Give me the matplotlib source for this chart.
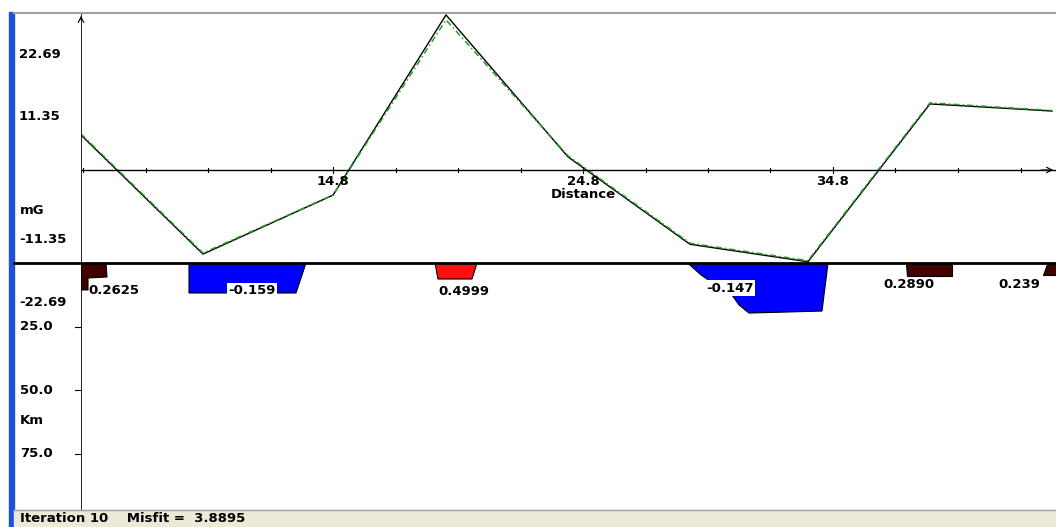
import numpy as np
import matplotlib.pyplot as plt
from matplotlib.patches import Polygon

# gravity profile (distance, mGal)
dist = [4.72, 9.6, 14.8, 19.32, 24.2, 29.08, 33.8, 38.68, 43.56]
g_obs = [6.6, -15.2, -4.6, 27.5, 2.6, -13.4, -16.6, 12.3, 10.9]
g_calc = [6.4, -15.4, -4.6, 28.4, 2.4, -13.6, -16.8, 12.1, 10.8]

# bodies: outline (distance, depth km), density contrast, colour, label position
bodies = [
    ([(4.72, 0), (5.72, 0), (5.76, 5.5), (5.0, 5.9), (5.0, 10.6), (4.72, 10.6)],
     '0.2625', '#400000', (5.0, 11.0), False),
    ([(9.04, 0), (13.72, 0), (13.32, 11.8), (9.04, 11.8)],
     '-0.159', '#0000ff', (10.6, 11.0), True),
    ([(18.88, 0), (20.56, 0), (20.36, 6.3), (19.0, 6.3)],
     '0.4999', '#ff1010', (19.0, 11.2), False),
    ([(28.92, 0), (34.6, 0), (34.36, 18.9), (31.44, 19.7), (31.04, 16.5),
      (30.48, 8.7), (30.0, 7.9), (29.52, 4.7), (29.08, 0.8)],
     '-0.147', '#0000ff', (29.72, 10.0), True),
    ([(37.72, 0.4), (39.56, 0.4), (39.56, 5.1), (37.76, 5.1)],
     '0.2890', '#400000', (36.8, 8.3), False),
    ([(43.36, 0.4), (43.72, 0.4), (43.72, 4.7), (43.2, 4.7)],
     '0.239', '#400000', (41.4, 8.3), False),
]

g_ticks = [22.69, 11.35, -11.35, -22.69]
d_ticks = [25.0, 50.0, 75.0]
x_labels = [14.8, 24.8, 34.8]

W, H = 1056, 527
fig = plt.figure(figsize=(W / 100, H / 100), dpi=100)
fig.patch.set_facecolor('white')


def box(x0, y0, x1, y1):
    return [x0 / W, 1 - y1 / H, (x1 - x0) / W, (y1 - y0) / H]


xlim = (4.72, 43.72)
bold = dict(fontweight='bold', fontsize=9.5, family='DejaVu Sans')

# gravity panel
ax = fig.add_axes(box(81, 13, 1056, 263))
ax.set_xlim(*xlim)
ax.set_ylim(-17.03, 28.75)
ax.axis('off')
ax.plot(dist, g_calc, color='black', lw=1)
ax.plot(dist, g_obs, color='#20a020', lw=1.1, ls=(0, (4, 2, 1, 2)))
ax.axhline(0, color='black', lw=1)
ax.axvline(xlim[0], color='black', lw=1.2)
ax.annotate('', xy=(43.72, 0), xytext=(43.0, 0),
            arrowprops=dict(arrowstyle='->', color='black', lw=0.8))
ax.annotate('', xy=(xlim[0], 28.75), xytext=(xlim[0], 27.0),
            arrowprops=dict(arrowstyle='->', color='black', lw=0.8))
minor = np.arange(14.8 - 2.5 * 4, 44, 2.5)
for t in minor:
    big = any(abs(t - m) < 0.01 for m in x_labels)
    ax.plot([t, t], [-0.6 if big else -0.4, 0.6 if big else 0.4], color='black', lw=0.8)
for t in x_labels:
    ax.text(t, -1.0, f'{t}', ha='center', va='top', **bold)
ax.text(24.8, -3.3, 'Distance', ha='center', va='top', **bold)
gy_px = {22.69: 55, 11.35: 117, -11.35: 240, -22.69: 302}
for v in g_ticks:
    fig.text(19 / W, 1 - gy_px[v] / H, f'{v}', ha='left', va='center', **bold)
fig.text(20 / W, 1 - 211 / H, 'mG', ha='left', va='center', **bold)

# depth panel
ax2 = fig.add_axes(box(81, 263, 1056, 510))
ax2.set_xlim(*xlim)
ax2.set_ylim(97.2, 0)
ax2.axis('off')
ax2.axvline(xlim[0], color='black', lw=1.2)
for pts, lab, col, (lx, ly), boxed in bodies:
    ax2.add_patch(Polygon(pts, closed=True, facecolor=col, edgecolor='black', lw=0.8))
    bb = dict(facecolor='white', edgecolor='none', pad=1) if boxed else None
    ax2.text(lx, ly, lab, ha='left', va='center', bbox=bb, **bold)
for v in d_ticks:
    ax2.plot([xlim[0] - 0.25, xlim[0]], [v, v], color='black', lw=0.8, clip_on=False)
    fig.text(20 / W, 1 - (263 + v * 2.54) / H, f'{v}', ha='left', va='center', **bold)
fig.text(20 / W, 1 - 421 / H, 'Km', ha='left', va='center', **bold)

# surface line, window frame, status bar
fig.add_artist(plt.Line2D([14 / W, 1], [1 - 263 / H] * 2, color='black', lw=2))
fig.add_artist(plt.Line2D([14 / W, 1], [1 - 13 / H] * 2, color='#a0a0a0', lw=1.5))
fig.add_artist(plt.Rectangle((9 / W, 0), 5 / W, 1 - 12 / H, color='#2050d8'))
fig.add_artist(plt.Rectangle((14 / W, 0), 1, 17 / H, color='#ece9d8'))
fig.add_artist(plt.Line2D([14 / W, 1], [17 / H] * 2, color='#a0a0a0', lw=1))
fig.text(20 / W, 8.5 / H, 'Iteration 10    Misfit =  3.8895', ha='left', va='center', **bold)

fig.savefig('out.png', dpi=100)
